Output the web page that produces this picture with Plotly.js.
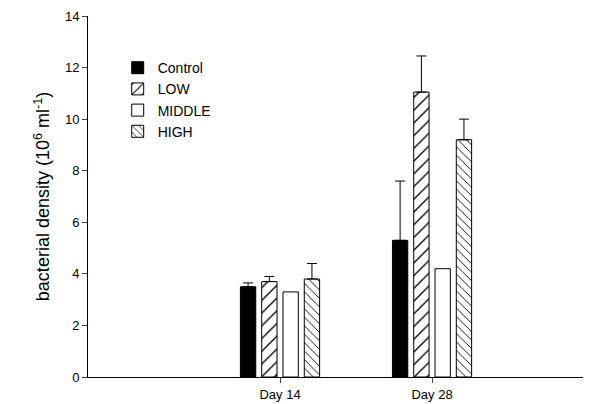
<!DOCTYPE html>
<html><head><script src="https://cdn.plot.ly/plotly-3.0.1.min.js"></script></head>
<body style="margin:0"><div id="chart" style="width:599px;height:404px"></div>
<script>
const days = [1, 2];
const dayLabels = ['Day 14', 'Day 28'];
const groups = ['Control', 'LOW', 'MIDDLE', 'HIGH'];
const means = [[3.5, 5.3], [3.7, 11.05], [3.3, 4.2], [3.8, 9.2]];
const errs = [[0.15, 2.3], [0.2, 1.4], [0, 0], [0.6, 0.8]];
const fills = ['black', 'white', 'white', 'white'];
const shapes = ['', '/', '', '\\'];

const traces = groups.map((g, i) => ({
  type: 'bar', name: g, x: days, y: means[i],
  marker: {color: fills[i], line: {color: 'black', width: 1},
    pattern: {shape: shapes[i], fgcolor: 'black', bgcolor: 'white', size: i == 3 ? 6 : 9, solidity: 0.15}},
  error_y: {type: 'data', symmetric: false, array: errs[i], arrayminus: [0, 0],
    visible: errs[i].some(v => v > 0), color: 'black', thickness: 1, width: 5}
}));

Plotly.newPlot('chart', traces, {
  width: 599, height: 404, margin: {l: 88, r: 16, t: 16, b: 27},
  barmode: 'group', bargap: 0.44, bargroupgap: 0.28,
  font: {family: 'Liberation Sans, Arial', color: 'black', size: 13},
  showlegend: true,
  legend: {x: 0.06, y: 0.9, bgcolor: 'rgba(0,0,0,0)', font: {size: 14}, tracegroupgap: 0},
  xaxis: {range: [-0.263, 2.993], tickvals: days, ticktext: dayLabels, ticks: 'outside',
    ticklen: 5, showline: true, linecolor: 'black', showgrid: false, zeroline: false},
  yaxis: {range: [0, 14], dtick: 2, ticks: 'outside', ticklen: 5, showline: true,
    linecolor: 'black', showgrid: false, zeroline: false,
    title: {text: 'bacterial density (10<sup>6</sup> ml<sup>-1</sup>)', font: {size: 18}, standoff: 10}},
  plot_bgcolor: 'white', paper_bgcolor: 'white'
}, {displayModeBar: false});
</script></body></html>
